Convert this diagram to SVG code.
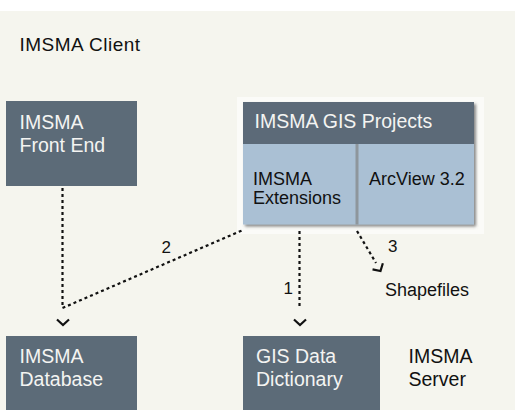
<svg xmlns="http://www.w3.org/2000/svg" xmlns:xlink="http://www.w3.org/1999/xlink" width="515" height="410" viewBox="0 0 515 410">
  <style>
    text { font-family: "Liberation Sans", Arial, sans-serif; }
    .dark { fill: #5C6B78; }
    .light { fill: #AAC0D4; }
    .wt { fill: #F4F4F2; font-size: 19.5px; }
    .bt { fill: #111111; font-size: 18px; }
    .num { fill: #111111; font-size: 17px; }
    .dot { fill: none; stroke: #111111; stroke-width: 2.2; stroke-dasharray: 3 3; }
    .chev { fill: none; stroke: #111111; stroke-width: 2.2; }
  </style>
  <defs>
    <filter id="shadow" x="-10%" y="-10%" width="125%" height="125%">
      <feDropShadow dx="2" dy="2" stdDeviation="1.5" flood-color="#555555" flood-opacity="0.7"/>
    </filter>
    <path id="chevron" d="M-6,-5.5 L0,0 L6,-5.5"/>
  </defs>

  <rect x="0" y="0" width="515" height="410" fill="#FFFFFF"/>
  <rect x="0" y="11" width="515" height="399" fill="#F5F5EE"/>

  <g id="client-label">
    <text class="bt" x="19.5" y="51" style="font-size:19px; letter-spacing:0.5px">IMSMA Client</text>
  </g>

  <g id="front-end">
    <rect class="dark" x="6" y="101" width="131" height="85"/>
    <text class="wt" x="19.5" y="128.5">IMSMA</text>
    <text class="wt" x="19.5" y="151.5">Front End</text>
  </g>

  <g id="gis-projects">
    <rect x="237" y="97" width="247" height="137" fill="#FBFBF8"/>
    <g filter="url(#shadow)">
      <rect class="dark" x="243" y="102" width="231" height="42"/>
      <rect class="light" x="243" y="144" width="231" height="80.5"/>
    </g>
    <rect x="355.5" y="144" width="3" height="80.5" fill="#8E969C"/>
    <text class="wt" x="254.5" y="127.5">IMSMA GIS Projects</text>
    <g id="imsma-extensions">
      <text class="bt" x="253" y="185">IMSMA</text>
      <text class="bt" x="253" y="204">Extensions</text>
    </g>
    <g id="arcview">
      <text class="bt" x="369" y="185">ArcView 3.2</text>
    </g>
  </g>

  <g id="database">
    <rect class="dark" x="6" y="336" width="131" height="80"/>
    <text class="wt" x="19.5" y="363">IMSMA</text>
    <text class="wt" x="19.5" y="386">Database</text>
  </g>

  <g id="gis-data-dictionary">
    <rect class="dark" x="243" y="336" width="137" height="80"/>
    <text class="wt" x="256" y="363">GIS Data</text>
    <text class="wt" x="256" y="386">Dictionary</text>
  </g>

  <g id="server-label">
    <text class="bt" x="408.5" y="363" style="font-size:19.5px">IMSMA</text>
    <text class="bt" x="408.5" y="386" style="font-size:19.5px">Server</text>
  </g>

  <g id="shapefiles">
    <text class="bt" x="385" y="295.5">Shapefiles</text>
  </g>

  <g id="connectors">
    <polyline class="dot" points="62.5,188 62.5,308 243,230"/>
    <line class="dot" x1="299.5" y1="231" x2="299.5" y2="308"/>
    <line class="dot" x1="357" y1="231" x2="376" y2="263"/>
    <use xlink:href="#chevron" class="chev" transform="translate(63,325)"/>
    <use xlink:href="#chevron" class="chev" transform="translate(300,325)"/>
    <use xlink:href="#chevron" class="chev" transform="translate(380.5,271) rotate(-30.7)"/>
    <text class="num" x="161.5" y="253">2</text>
    <text class="num" x="283.5" y="294">1</text>
    <text class="num" x="388" y="252">3</text>
  </g>
</svg>
